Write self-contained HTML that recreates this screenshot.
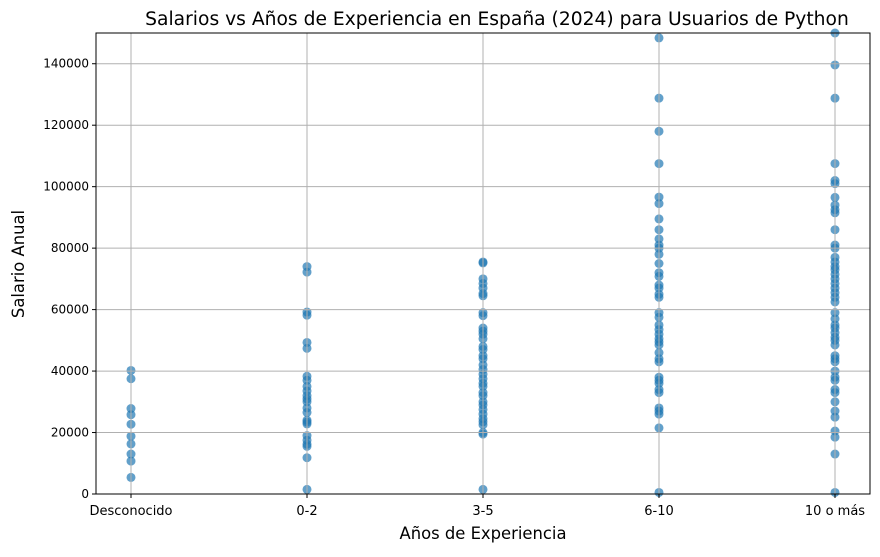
<!DOCTYPE html>
<html><head><meta charset="utf-8"><style>
body{margin:0;background:#fff;font-family:"Liberation Sans","DejaVu Sans",sans-serif}
svg text{font-family:"DejaVu Sans","Liberation Sans",sans-serif}
</style></head><body>
<svg id="chart" width="880" height="552">
<text x="497" y="25" font-size="18.7" text-anchor="middle">Salarios vs Años de Experiencia en España (2024) para Usuarios de Python</text>
<g id="pts"></g><g id="grid"></g><g id="axes"></g>
<text x="483" y="539" font-size="16.4" text-anchor="middle">Años de Experiencia</text>
<text x="24" y="264" font-size="16.4" text-anchor="middle" transform="rotate(-90 24 264)">Salario Anual</text>
</svg>
<script>
const categories=["Desconocido","0-2","3-5","6-10","10 o más"];
const yTicks=[0,20000,40000,60000,80000,100000,120000,140000];
const sDesc=[40200,37500,27800,25800,22700,18800,16300,13000,10700,5400];
const s02=[74000,72200,59200,58200,49300,47400,38300,37000,35000,33500,32000,30900,30000,28000,26500,24000,23400,22800,19000,17500,16200,15500,11800,1500];
const s35=[75500,75200,70000,68500,67000,65200,64500,59000,58000,54000,53000,52000,50500,48000,47000,45000,44000,42000,40500,39000,37500,36000,35000,33000,32000,30000,29000,27500,26000,24500,23500,22500,20000,19500,1500];
const s610=[148400,128800,118000,107500,96600,94500,89500,86000,83000,81000,80000,78000,75000,72000,70800,68000,67000,65000,64000,59000,57500,55000,53500,52000,50500,49500,48500,46000,44000,43000,38000,37000,36000,34000,33000,28000,27000,26000,21500,500];
const s10=[150000,139600,128800,107500,102000,101000,96500,94000,92500,91500,86000,81000,80000,77000,75500,74000,73000,71500,70000,68500,67000,65500,64000,62500,59000,57000,55000,54000,52500,51000,50000,48500,45000,44000,43000,40000,38000,37000,34000,33000,30000,27000,25000,20500,18500,13000,500];
const series=[sDesc,s02,s35,s610,s10];
const L=96,R=870,T=33,B=494,yMax=150000;
const xS=i=>131+i*176;
const yS=v=>B-v/yMax*(B-T);
const NS="http://www.w3.org/2000/svg";
function mk(tag,attrs,parent){const e=document.createElementNS(NS,tag);for(const k in attrs)e.setAttribute(k,attrs[k]);parent.appendChild(e);return e;}
const grid=document.getElementById('grid'),pts=document.getElementById('pts'),axes=document.getElementById('axes');
categories.forEach((c,i)=>{
 const g=mk('line',{x1:xS(i),x2:xS(i),y1:T,y2:B,stroke:'#b0b0b0','stroke-width':1},grid);
 
 
 mk('line',{x1:xS(i),x2:xS(i),y1:B,y2:B+4,stroke:'#000'},axes);
 const t=mk('text',{x:xS(i),y:B+21,'font-size':13,'text-anchor':'middle'},axes);t.textContent=c;
 
 
});
yTicks.forEach(v=>{
 const g=mk('line',{x1:L,x2:R,y1:yS(v),y2:yS(v),stroke:'#b0b0b0','stroke-width':1},grid);
 
 
 mk('line',{x1:L-4,x2:L,y1:yS(v),y2:yS(v),stroke:'#000'},axes);
 const t=mk('text',{x:L-7,y:yS(v)+4,'font-size':12,'text-anchor':'end'},axes);t.textContent=v;
 
 
});
series.forEach((arr,i)=>arr.forEach(v=>{
 const c=mk('circle',{cx:xS(i),cy:yS(v),r:4.5,fill:'#1f77b4','fill-opacity':0.7},pts);
 
 
}));
const fr=mk('rect',{x:L,y:T,width:R-L,height:B-T,fill:'none',stroke:'#000','stroke-width':1},axes);


</script>
</body></html>
